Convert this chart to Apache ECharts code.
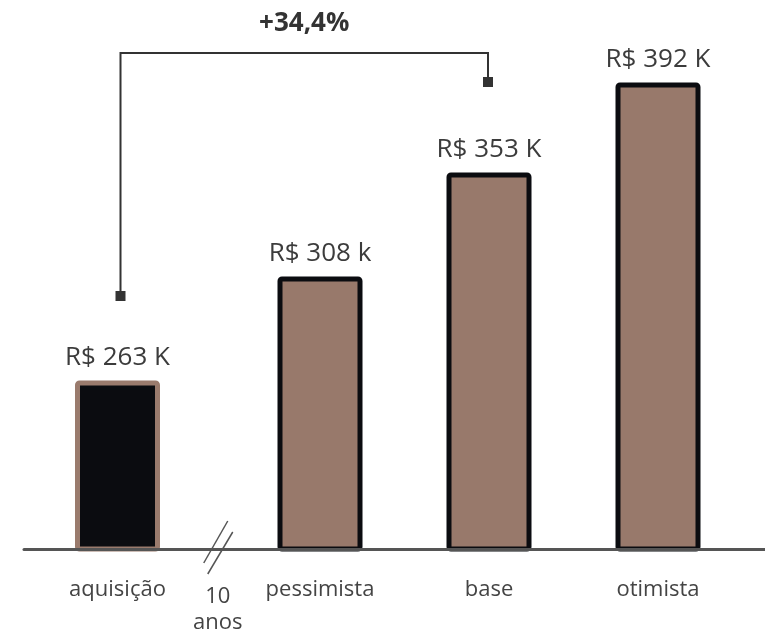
<!DOCTYPE html>
<html>
<head>
<meta charset="utf-8">
<script src="https://cdn.jsdelivr.net/npm/echarts@6/dist/echarts.min.js"></script>
<style>
  html, body { margin: 0; padding: 0; background: #ffffff; }
  #chart { width: 765px; height: 630px; }
</style>
</head>
<body>
<div id="chart"></div>
<script>
// Property value: purchase price and three 10-year scenarios
const categories = ['aquisição', 'pessimista', 'base', 'otimista'];
const values = [263, 308, 353, 392];
const valueLabels = ['R$ 263 K', 'R$ 308 k', 'R$ 353 K', 'R$ 392 K'];
const gapLabel = '10\nanos';
const changeLabel = '+34,4%';

const FONT = '"Open Sans", sans-serif';
const BROWN = '#98796b';
const DARK = '#0b0c10';
const TEXT = '#3c3c3c';

const chart = echarts.init(document.getElementById('chart'), null, { renderer: 'canvas' });

const yRange = { min: 190, max: 400 };
const gridTop = 64, gridBottom = 81;

function valueAxis(gridIndex) {
  return { type: 'value', gridIndex, min: yRange.min, max: yRange.max, show: false };
}

function catAxis(gridIndex, data) {
  return {
    type: 'category', gridIndex, data,
    axisLine: { show: false }, axisTick: { show: false },
    axisLabel: { fontFamily: FONT, fontSize: 22, color: '#444', margin: 30 }
  };
}

function labelOpt(offset) {
  return {
    show: true, position: 'top', distance: 10,
    fontFamily: FONT, fontSize: 26, color: TEXT,
    formatter: p => valueLabels[p.dataIndex + offset]
  };
}

chart.setOption({
  animation: false,
  grid: [
    { left: 25, width: 185, top: gridTop, bottom: gridBottom },   // purchase
    { left: 235.5, width: 507, top: gridTop, bottom: gridBottom }, // scenarios
    { left: 24, right: 0, top: gridTop, bottom: gridBottom }       // shared baseline
  ],
  xAxis: [
    catAxis(0, categories.slice(0, 1)),
    catAxis(1, categories.slice(1)),
    {
      type: 'category', gridIndex: 2, data: [''], z: 10,
      axisLine: { show: true, lineStyle: { color: '#555', width: 3 } },
      axisTick: { show: false }, axisLabel: { show: false }
    }
  ],
  yAxis: [valueAxis(0), valueAxis(1), valueAxis(2)],
  series: [
    {
      type: 'bar', xAxisIndex: 0, yAxisIndex: 0, barWidth: 85,
      data: values.slice(0, 1),
      itemStyle: { color: DARK, borderColor: '#9a7b6d', borderWidth: 5, borderRadius: 2 },
      label: labelOpt(0)
    },
    {
      type: 'bar', xAxisIndex: 1, yAxisIndex: 1, barWidth: 85,
      data: values.slice(1),
      itemStyle: { color: BROWN, borderColor: DARK, borderWidth: 5, borderRadius: 2 },
      label: labelOpt(1)
    }
  ]
});

// Annotations placed from the axes: change bracket, axis break and time gap
const pA = chart.convertToPixel({ seriesIndex: 0 }, [0, values[0]]);
const pP = chart.convertToPixel({ seriesIndex: 1 }, [0, values[1]]);
const pB = chart.convertToPixel({ seriesIndex: 1 }, [1, values[2]]);
const base = chart.convertToPixel({ gridIndex: 2 }, [0, yRange.min])[1];

const xL = pA[0] + 3, xR = pB[0] - 1;
const yTop = 53, yLeftEnd = 296, yRightEnd = 82;
const xGap = (pA[0] + pP[0]) / 2;

chart.setOption({
  graphic: [
    {
      type: 'polyline', z: 20,
      shape: { points: [[xL, yLeftEnd], [xL, yTop], [xR, yTop], [xR, yRightEnd]] },
      style: { stroke: '#333', lineWidth: 2, fill: null }
    },
    { type: 'rect', z: 20, shape: { x: xL - 5, y: yLeftEnd - 5, width: 10, height: 10 }, style: { fill: '#333' } },
    { type: 'rect', z: 20, shape: { x: xR - 5, y: yRightEnd - 5, width: 10, height: 10 }, style: { fill: '#333' } },
    {
      type: 'text', z: 20, x: (xL + xR) / 2, y: 24,
      style: { text: changeLabel, font: 'bold 26px ' + FONT, fill: '#333', align: 'center', verticalAlign: 'middle' }
    },
    // axis break marks
    { type: 'line', z: 20, shape: { x1: xGap + 9, y1: base - 28, x2: xGap - 15, y2: base + 14 }, style: { stroke: '#555', lineWidth: 1.5 } },
    { type: 'line', z: 20, shape: { x1: xGap + 14, y1: base - 17, x2: xGap - 11, y2: base + 25 }, style: { stroke: '#555', lineWidth: 1.5 } },
    {
      type: 'text', z: 20, x: xGap - 1, y: base + 35,
      style: { text: gapLabel, font: '22px ' + FONT, fill: '#444', align: 'center', verticalAlign: 'top', lineHeight: 26 }
    }
  ]
});
</script>
</body>
</html>
